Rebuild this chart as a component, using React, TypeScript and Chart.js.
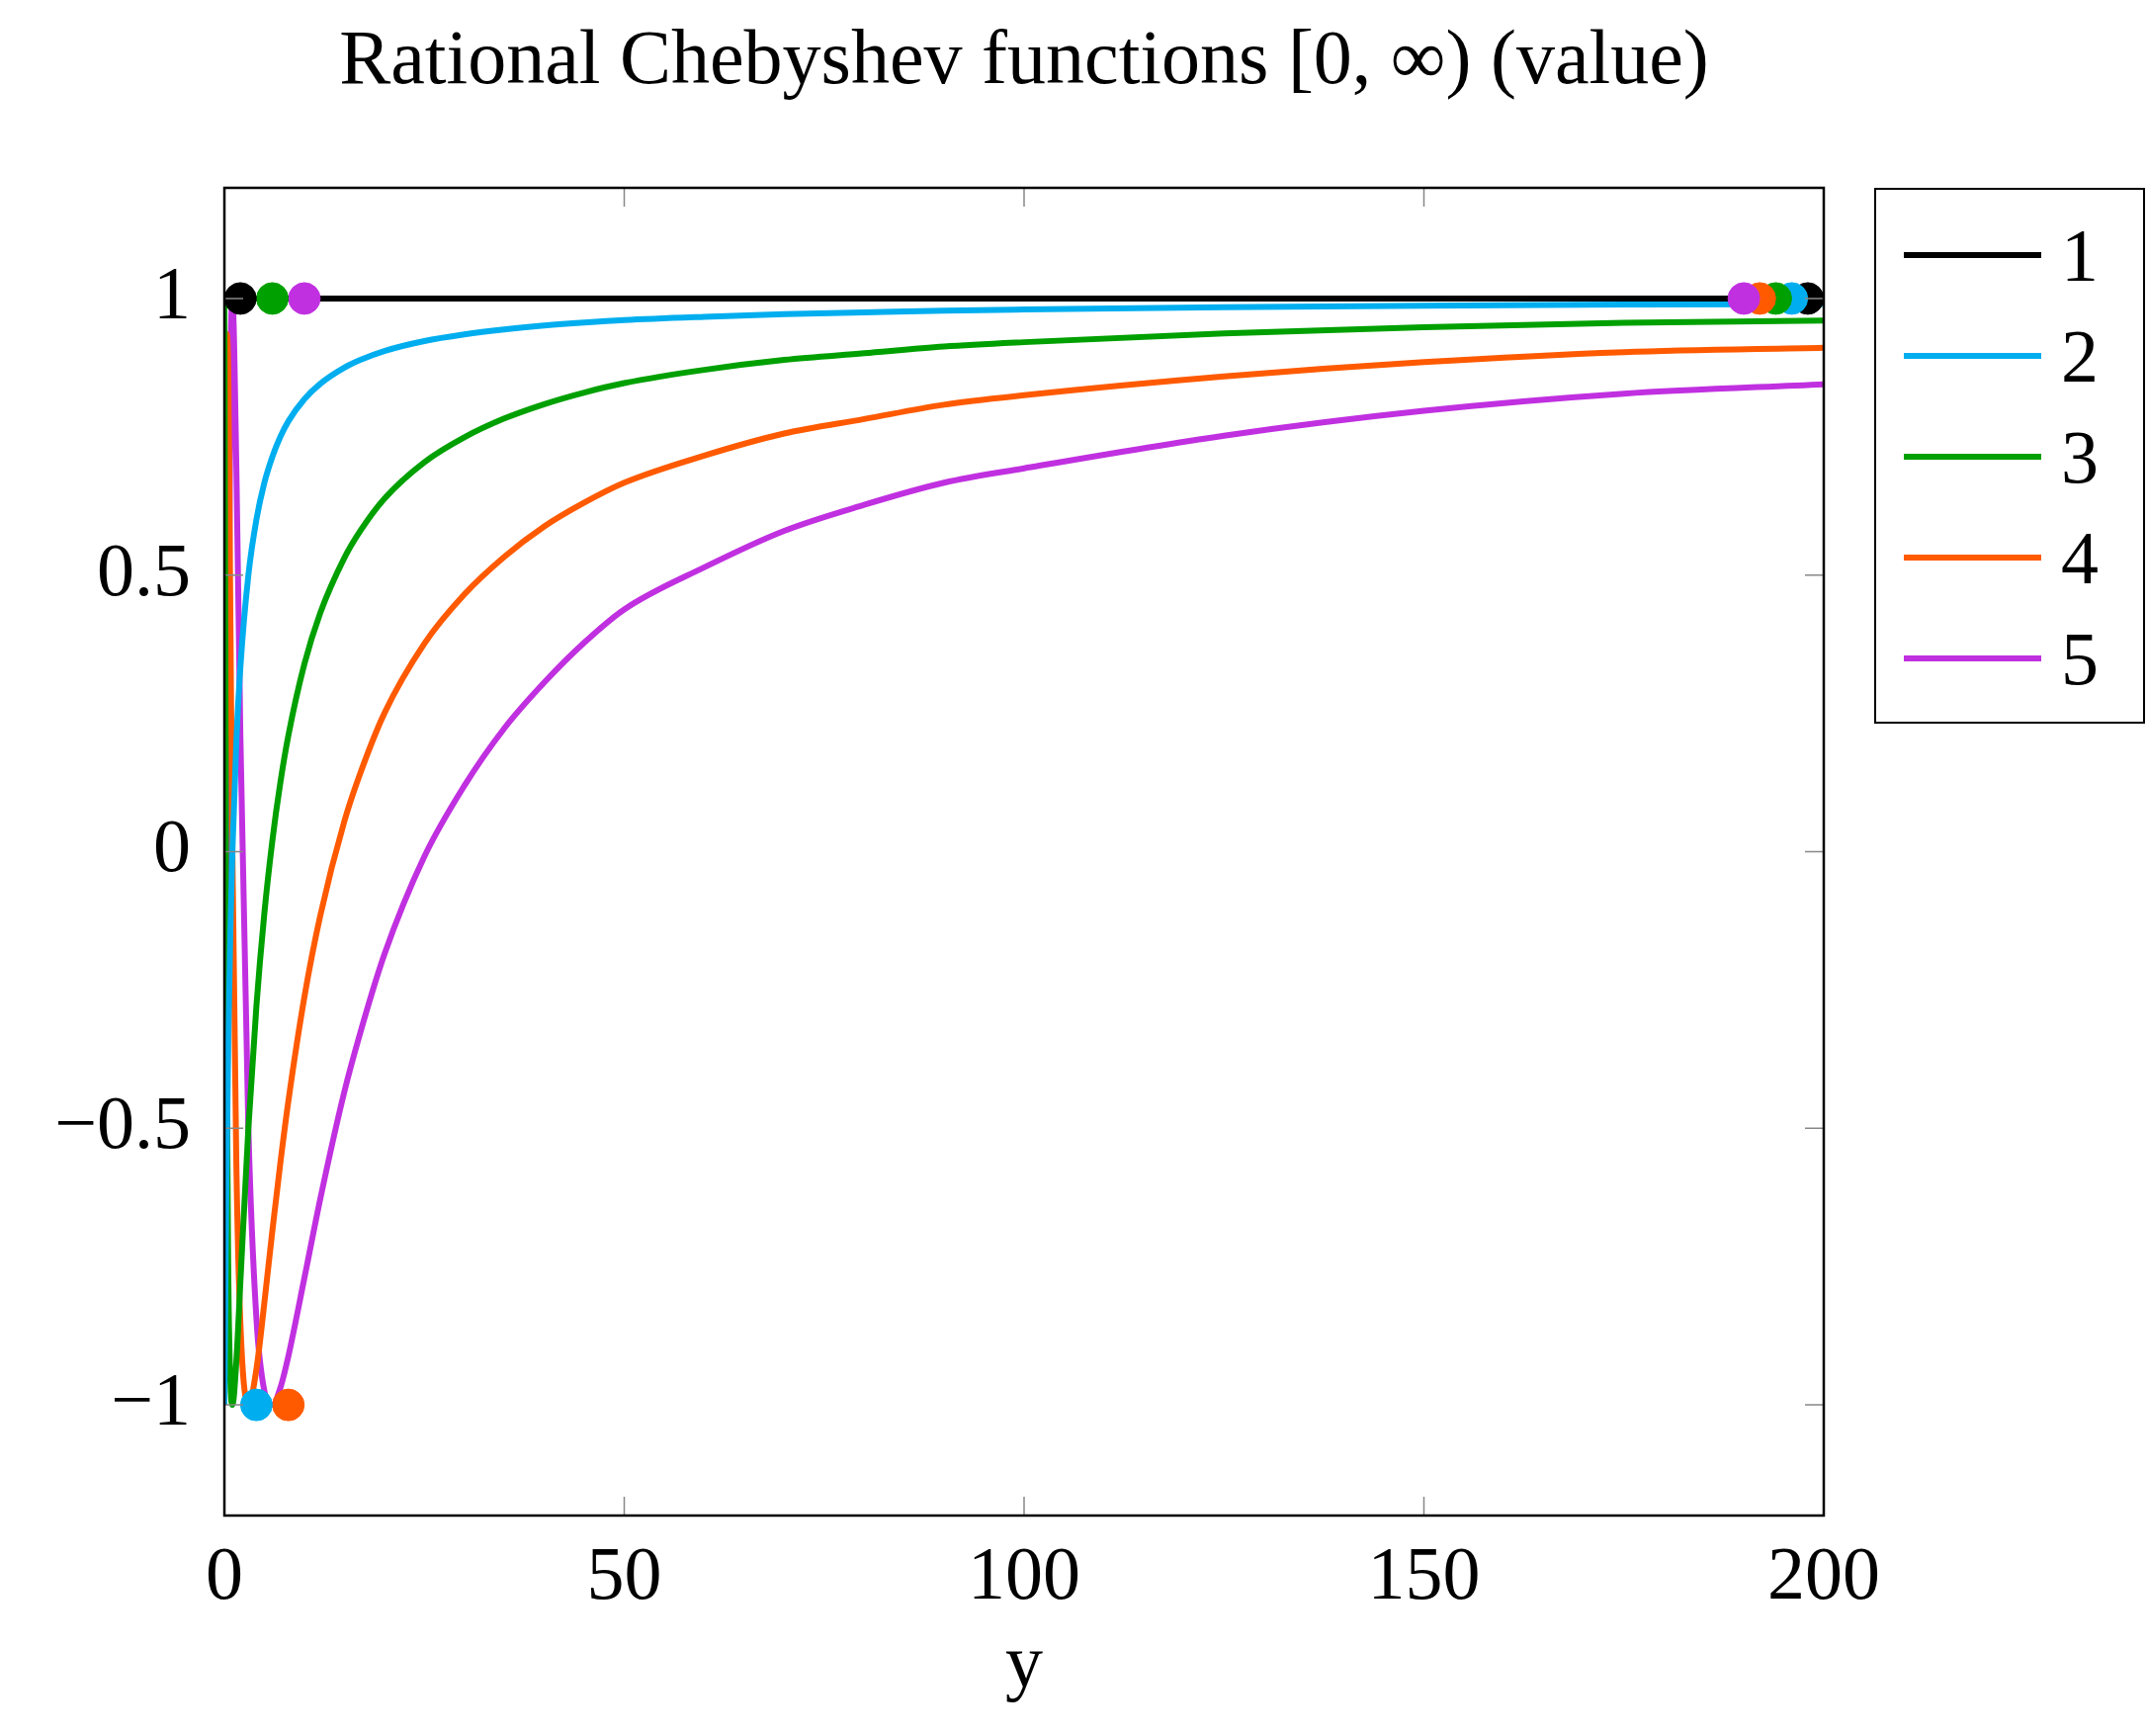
import React, { useEffect, useRef } from 'react';
import { Chart, registerables } from 'chart.js';

Chart.register(...registerables);

const yValues = [0, 0.25, 0.5, 0.75, 1, 1.5, 2, 3, 4, 5, 6, 7, 8, 10, 12, 15, 17, 20, 25, 30, 35, 40, 45, 50, 60, 70, 80, 90, 100, 125, 150, 175, 200];
const series1 = yValues.map(() => 1);
const series2 = [-1, -0.6, -0.333, -0.143, 0, 0.2, 0.333, 0.5, 0.6, 0.667, 0.714, 0.75, 0.778, 0.818, 0.846, 0.875, 0.889, 0.905, 0.923, 0.935, 0.944, 0.951, 0.9565, 0.961, 0.967, 0.9718, 0.975, 0.978, 0.98, 0.984, 0.987, 0.989, 0.99];
const series3 = [1, -0.28, -0.778, -0.959, -1, -0.92, -0.778, -0.5, -0.28, -0.111, 0.02, 0.125, 0.21, 0.339, 0.432, 0.531, 0.58, 0.638, 0.704, 0.749, 0.783, 0.809, 0.83, 0.847, 0.871, 0.889, 0.901, 0.913, 0.921, 0.937, 0.948, 0.956, 0.96];
const series4 = [-1, 0.936, 0.852, 0.417, 0, -0.568, -0.852, -1, -0.936, -0.815, -0.685, -0.5625, -0.451, -0.263, -0.115, 0.055, 0.142, 0.25, 0.376, 0.465, 0.533, 0.588, 0.631, 0.667, 0.716, 0.756, 0.782, 0.808, 0.825, 0.859, 0.885, 0.903, 0.911];
const series5 = [1, -0.843, 0.21, 0.84, 1, 0.693, 0.21, -0.5, -0.843, -0.975, -1, -0.969, -0.912, -0.771, -0.627, -0.434, -0.327, -0.186, -0.009, 0.119, 0.223, 0.306, 0.378, 0.438, 0.514, 0.58, 0.627, 0.667, 0.693, 0.752, 0.797, 0.828, 0.845];
const seriesLabels = ['1', '2', '3', '4', '5'];
const colors = ['#000000', '#00AEEF', '#00A000', '#FF5A00', '#C030E0'];
// marker positions [series index, y, value]
const markers: [number, number, number][] = [
  [0, 2, 1], [2, 6, 1], [4, 10, 1], [1, 4, -1], [3, 8, -1],
  [4, 190, 1], [3, 192, 1], [2, 194, 1], [1, 196, 1], [0, 198, 1],
];
const xTicks = [0, 50, 100, 150, 200];
const yTicks = [-1, -0.5, 0, 0.5, 1];

const FONT = '"Liberation Serif", serif';

export default function App() {
  const canvasRef = useRef<HTMLCanvasElement | null>(null);

  useEffect(() => {
    document.body.style.margin = '0';
    if (!canvasRef.current) return;
    const all = [series1, series2, series3, series4, series5];
    const lineSets = all.map((s, i) => ({
      type: 'line' as const,
      data: s.map((v, j) => ({ x: yValues[j], y: v })),
      borderColor: colors[i],
      borderWidth: 6,
      pointRadius: 0,
      cubicInterpolationMode: 'monotone' as const,
      order: 2,
    }));
    const markerSets = markers.map(([i, x, v]) => ({
      type: 'scatter' as const,
      data: [{ x, y: v }],
      backgroundColor: colors[i],
      borderColor: colors[i],
      pointRadius: 16,
      order: 1,
    }));

    const decor = {
      id: 'decor',
      afterDraw(chart: any) {
        const { ctx, chartArea: a, scales } = chart;
        ctx.save();
        ctx.strokeStyle = '#888';
        ctx.lineWidth = 1.5;
        const t = 19;
        xTicks.forEach((v) => {
          const px = scales.x.getPixelForValue(v);
          ctx.beginPath();
          ctx.moveTo(px, a.bottom); ctx.lineTo(px, a.bottom - t);
          ctx.moveTo(px, a.top); ctx.lineTo(px, a.top + t);
          ctx.stroke();
        });
        yTicks.forEach((v) => {
          const py = scales.y.getPixelForValue(v);
          ctx.beginPath();
          ctx.moveTo(a.left, py); ctx.lineTo(a.left + t, py);
          ctx.moveTo(a.right, py); ctx.lineTo(a.right - t, py);
          ctx.stroke();
        });
        ctx.strokeStyle = '#000';
        ctx.lineWidth = 2.5;
        ctx.strokeRect(a.left, a.top, a.right - a.left, a.bottom - a.top);
        ctx.fillStyle = '#000';
        ctx.textAlign = 'center';
        ctx.textBaseline = 'middle';
        ctx.font = `78px ${FONT}`;
        ctx.fillText('Rational Chebyshev functions [0, ∞) (value)', (a.left + a.right) / 2, 64);
        ctx.font = `76px ${FONT}`;
        ctx.fillText('y', (a.left + a.right) / 2, 1686);
        ctx.restore();
      },
    };

    const chart = new Chart(canvasRef.current, {
      type: 'line',
      data: { datasets: [...lineSets, ...markerSets] as any },
      options: {
        animation: false,
        responsive: false,
        layout: { padding: { top: 190, right: 327, left: 0, bottom: 0 } },
        plugins: { legend: { display: false }, title: { display: false }, tooltip: { enabled: false } },
        scales: {
          x: {
            type: 'linear', min: 0, max: 200,
            grid: { display: false },
            border: { display: false },
            afterBuildTicks: (s: any) => { s.ticks = xTicks.map((v) => ({ value: v })); },
            afterFit: (s: any) => { s.height = 223; },
            ticks: { color: '#000', font: { family: FONT, size: 76 }, padding: 10, maxRotation: 0 },
          },
          y: {
            type: 'linear', min: -1.2, max: 1.2,
            grid: { display: false },
            border: { display: false },
            afterBuildTicks: (s: any) => { s.ticks = yTicks.map((v) => ({ value: v })); },
            afterFit: (s: any) => { s.width = 227; },
            ticks: {
              color: '#000', font: { family: FONT, size: 76 }, padding: 26,
              callback: (v: any) => (Number(v) < 0 ? '\u2212' + Math.abs(Number(v)) : String(v)),
            },
          },
        },
      },
      plugins: [decor],
    });
    return () => chart.destroy();
  }, []);

  return (
    <div style={{ position: 'relative', width: 2172, height: 1756, background: '#fff' }}>
      <canvas ref={canvasRef} width={2172} height={1756} style={{ display: 'block' }} />
      <div style={{ position: 'absolute', left: 1896, top: 190, width: 270, height: 538, border: '2.5px solid #000', background: '#fff' }}>
        {seriesLabels.map((l, i) => (
          <div key={l} style={{ position: 'absolute', top: 38 + i * 102, left: 28, display: 'flex', alignItems: 'center', height: 56 }}>
            <div style={{ width: 139, height: 6, background: colors[i] }} />
            <span style={{ marginLeft: 20, fontFamily: FONT, fontSize: 76, lineHeight: '56px' }}>{l}</span>
          </div>
        ))}
      </div>
    </div>
  );
}
